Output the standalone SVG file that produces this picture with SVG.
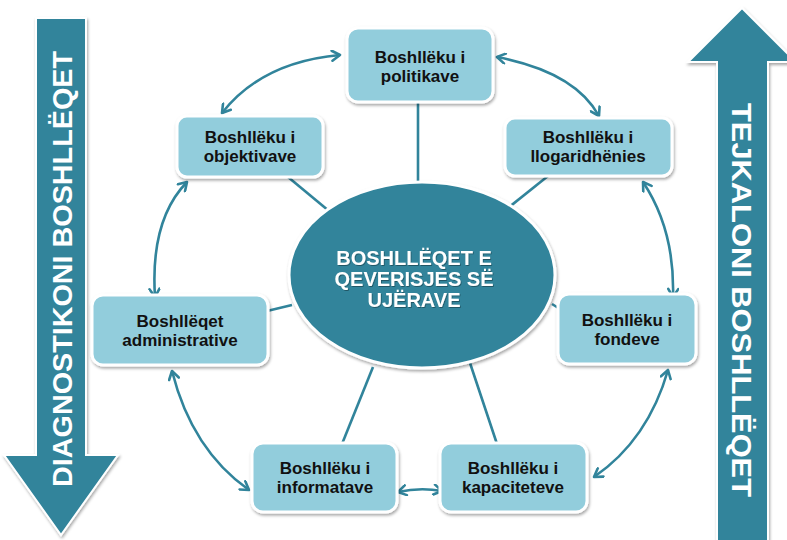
<svg xmlns="http://www.w3.org/2000/svg" width="787" height="540" viewBox="0 0 787 540">
<defs>
<filter id="sh" x="-20%" y="-20%" width="140%" height="150%">
<feDropShadow dx="1" dy="2" stdDeviation="1.6" flood-color="#000" flood-opacity="0.35"/>
</filter>
<filter id="tsh" x="-10%" y="-10%" width="120%" height="130%">
<feDropShadow dx="0.8" dy="1" stdDeviation="0.6" flood-color="#000" flood-opacity="0.35"/>
</filter>
<marker id="ah" viewBox="0 0 12 12" refX="10" refY="6" markerWidth="12" markerHeight="12" markerUnits="userSpaceOnUse" orient="auto-start-reverse">
<path d="M2,1 L10,6 L2,11" fill="none" stroke="#31849B" stroke-width="2.6" stroke-linecap="round" stroke-linejoin="round"/>
</marker>
</defs>
<style>
.box{fill:#92CDDC;stroke:#fff;stroke-width:3;filter:url(#sh)}
.lbl{font-family:"Liberation Sans",Arial,sans-serif;font-weight:bold;font-size:17px;fill:#111;text-anchor:middle}
.big{fill:#31849B;stroke:#fff;stroke-width:2;filter:url(#sh)}
.bigt{font-family:"Liberation Sans",Arial,sans-serif;font-weight:bold;font-size:28px;fill:#fff;text-anchor:middle}
.spoke{stroke:#31849B;stroke-width:2.6;fill:none}
.cur{stroke:#31849B;stroke-width:2.6;fill:none;marker-start:url(#ah);marker-end:url(#ah)}
.ct{font-family:"Liberation Sans",Arial,sans-serif;font-weight:bold;font-size:20px;fill:#fff;text-anchor:middle;filter:url(#tsh)}
</style>
<rect width="787" height="540" fill="#fff"/>

<g id="arrow-left">
<path class="big" d="M36,18 L86,18 L86,455 L118,455 L61,535 L4,455 L36,455 Z"/>
<text class="bigt" transform="translate(61,269) rotate(-90)" y="10.5" textLength="436" lengthAdjust="spacingAndGlyphs">DIAGNOSTIKONI BOSHLLËQET</text>
</g>
<g id="arrow-right">
<path class="big" d="M717,541 L717,62 L688,62 L742,8 L796,62 L768,62 L768,541 Z"/>
<text class="bigt" transform="translate(742,300) rotate(90)" y="10.5" textLength="394" lengthAdjust="spacingAndGlyphs">TEJKALONI BOSHLLËQET</text>
</g>

<g id="connectors">
<line class="spoke" x1="418" y1="101" x2="418" y2="184"/>
<line class="spoke" x1="288" y1="177" x2="329" y2="211"/>
<line class="spoke" x1="548" y1="176" x2="503" y2="212"/>
<line class="spoke" x1="267" y1="311" x2="292" y2="305"/>
<line class="spoke" x1="552" y1="304" x2="560" y2="309"/>
<line class="spoke" x1="373" y1="367" x2="342" y2="444"/>
<line class="spoke" x1="470" y1="363" x2="497" y2="444"/>
<path class="cur" d="M222,113 Q262,62 340,55"/>
<path class="cur" d="M497,57 Q575,72 599,116"/>
<path class="cur" d="M187,182 Q150,220 155,297"/>
<path class="cur" d="M643,182 Q675,230 673,297"/>
<path class="cur" d="M172,371 Q192,450 249,490"/>
<path class="cur" d="M668,370 Q648,440 594,477"/>
<path class="cur" d="M398,492 Q420,487 442,491"/>
</g>

<g id="center">
<ellipse cx="422" cy="275" rx="133" ry="93" fill="#31849B" stroke="#fff" stroke-width="3" filter="url(#sh)"/>
<text class="ct" x="414" y="265">BOSHLLËQET E</text>
<text class="ct" x="414" y="286">QEVERISJES SË</text>
<text class="ct" x="414" y="307">UJËRAVE</text>
</g>

<g id="n-politikave">
<rect class="box" x="347" y="28" width="146" height="74" rx="11"/>
<text class="lbl" x="420" y="63">Boshllëku i</text>
<text class="lbl" x="420" y="82">politikave</text>
</g>
<g id="n-objektivave">
<rect class="box" x="177" y="116" width="146" height="61" rx="10"/>
<text class="lbl" x="250" y="143">Boshllëku i</text>
<text class="lbl" x="250" y="162">objektivave</text>
</g>
<g id="n-llogaridhenies">
<rect class="box" x="505" y="118" width="167" height="58" rx="10"/>
<text class="lbl" x="588" y="143">Boshllëku i</text>
<text class="lbl" x="588" y="162">llogaridhënies</text>
</g>
<g id="n-administrative">
<rect class="box" x="92" y="295" width="176" height="70" rx="11"/>
<text class="lbl" x="180" y="327">Boshllëqet</text>
<text class="lbl" x="180" y="346">administrative</text>
</g>
<g id="n-fondeve">
<rect class="box" x="558" y="294" width="138" height="70" rx="11"/>
<text class="lbl" x="627" y="326">Boshllëku i</text>
<text class="lbl" x="627" y="345">fondeve</text>
</g>
<g id="n-informatave">
<rect class="box" x="252" y="443" width="145" height="69" rx="11"/>
<text class="lbl" x="325" y="474">Boshllëku i</text>
<text class="lbl" x="325" y="493">informatave</text>
</g>
<g id="n-kapaciteteve">
<rect class="box" x="440" y="443" width="147" height="69" rx="11"/>
<text class="lbl" x="513" y="474">Boshllëku i</text>
<text class="lbl" x="513" y="493">kapaciteteve</text>
</g>
</svg>
